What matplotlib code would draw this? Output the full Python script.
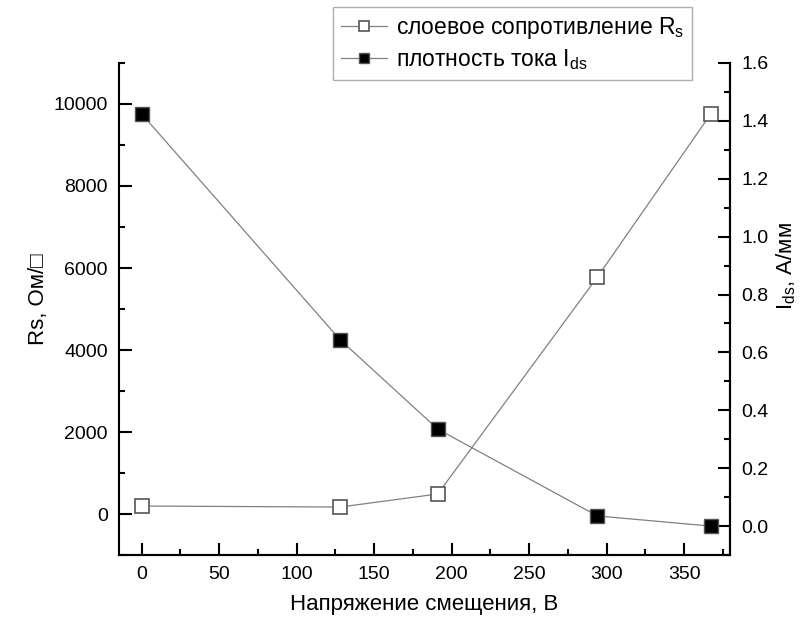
import matplotlib
matplotlib.use("Agg")
import matplotlib.pyplot as plt
from matplotlib.ticker import MultipleLocator

plt.rcParams['font.family'] = ['Liberation Sans', 'DejaVu Sans']

# данные
voltage = [0, 128, 191, 294, 367]
rs = [195, 170, 488, 5780, 9750]
ids = [1.424, 0.644, 0.335, 0.035, 0.0]

fig = plt.figure(figsize=(8.05, 6.28), dpi=100)
ax = fig.add_axes([0.1478, 0.1162, 0.759, 0.7835])
ax2 = ax.twinx()

l1, = ax.plot(voltage, rs, color='#808080', lw=0.9, marker='s', ms=10,
              mfc='white', mec='#555555', mew=1.2,
              label='слоевое сопротивление R$_\\mathregular{s}$')
l2, = ax2.plot(voltage, ids, color='#808080', lw=0.9, marker='s', ms=10,
               mfc='black', mec='#555555', mew=1.0,
               label='плотность тока I$_\\mathregular{ds}$')

ax.set_xlim(-14.6, 379.5)
ax.set_ylim(-1000, 11000)
ax2.set_ylim(-0.1, 1.6)

ax.xaxis.set_major_locator(MultipleLocator(50))
ax.xaxis.set_minor_locator(MultipleLocator(25))
ax.yaxis.set_major_locator(MultipleLocator(2000))
ax.yaxis.set_minor_locator(MultipleLocator(1000))
ax2.yaxis.set_major_locator(MultipleLocator(0.2))
ax2.yaxis.set_minor_locator(MultipleLocator(0.1))
ax2.yaxis.set_major_formatter(plt.FormatStrFormatter('%.1f'))

for a in (ax, ax2):
    a.spines['top'].set_visible(False)
    for s in a.spines.values():
        s.set_linewidth(1.5)
    a.tick_params(which='major', direction='in', length=9, width=1.5, labelsize=14, pad=8)
    a.tick_params(which='minor', direction='in', length=4.5, width=1.5)
ax.tick_params(axis='y', which='both', right=False)
ax.tick_params(axis='x', which='both', top=False)
ax2.spines['left'].set_visible(False)

ax.set_xlabel('Напряжение смещения, В', fontsize=16, labelpad=8)
ax.set_ylabel('Rs, Ом/□', fontsize=16)
ax.yaxis.set_label_coords(-0.115, 0.52)
ax2.set_ylabel('I$_\\mathregular{ds}$, А/мм', fontsize=16, rotation=90)
ax2.yaxis.set_label_coords(1.072, 0.587)

leg = fig.legend(handles=[l1, l2], loc='upper right', bbox_to_anchor=(692 / 805, 1 - 7 / 628),
                 fontsize=16.5, frameon=True, fancybox=False, edgecolor='#999999',
                 handlelength=2.0, handletextpad=0.4, borderpad=0.35, labelspacing=0.25,
                 borderaxespad=0, markerscale=0.75)
leg.get_frame().set_linewidth(1.0)

fig.savefig('out.png', dpi=100)
